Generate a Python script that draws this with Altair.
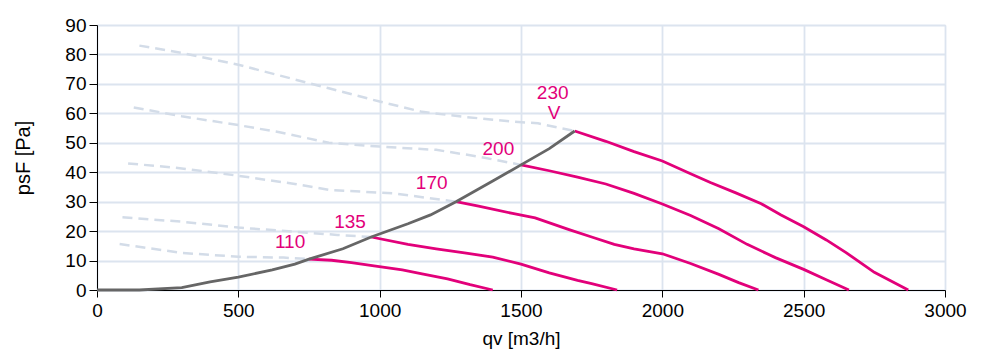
import altair as alt
import pandas as pd

# operating curve (gray)
sys_q = [0, 150, 300, 400, 500, 620, 700, 750, 870, 970, 1100, 1180, 1270, 1400, 1500, 1600, 1690]
sys_p = [0, 0, 0.8, 2.8, 4.4, 6.8, 8.8, 10.5, 14, 18, 22.5, 25.5, 30, 37, 42.5, 48, 54]

# voltage curves (solid magenta)
v230_q = [1690, 1800, 1900, 2000, 2100, 2170, 2260, 2350, 2420, 2500, 2580, 2650, 2750, 2870]
v230_p = [54, 50.5, 47, 43.8, 39.5, 36.5, 33, 29.3, 25.5, 21.5, 17, 12.7, 6, 0]
v200_q = [1500, 1600, 1700, 1800, 1900, 2000, 2100, 2200, 2300, 2400, 2500, 2580, 2660]
v200_p = [42.5, 40.5, 38.3, 36, 32.8, 29.2, 25.3, 20.8, 15.5, 11, 7, 3.5, 0]
v170_q = [1270, 1350, 1470, 1550, 1670, 1750, 1830, 1900, 2000, 2100, 2200, 2270, 2340]
v170_p = [30, 28.5, 26, 24.5, 20.5, 18, 15.5, 14, 12.3, 9, 5.3, 2.5, 0]
v135_q = [970, 1100, 1200, 1300, 1400, 1500, 1600, 1700, 1750, 1840]
v135_p = [18, 15.5, 14, 12.6, 11.2, 8.8, 5.8, 3.3, 2.2, 0]
v110_q = [750, 830, 900, 980, 1080, 1150, 1240, 1320, 1400]
v110_p = [10.5, 10.1, 9.3, 8.2, 6.8, 5.5, 3.8, 1.8, 0]

# dashed extensions (light)
d230_q = [150, 300, 500, 700, 820, 1000, 1150, 1300, 1470, 1560, 1690]
d230_p = [83, 80.5, 76.5, 71.5, 68.5, 64, 60.5, 58.8, 57.2, 56.6, 54]
d200_q = [130, 300, 500, 650, 820, 1000, 1200, 1350, 1500]
d200_p = [62, 59, 56, 53.5, 50, 48.7, 47.6, 45.3, 42.5]
d170_q = [110, 300, 500, 700, 820, 1050, 1270]
d170_p = [43, 41.3, 38.8, 36, 34, 32.8, 30]
d135_q = [90, 300, 500, 700, 850, 970]
d135_p = [24.7, 23.2, 21.2, 19.8, 18.7, 18]
d110_q = [80, 300, 500, 660, 750]
d110_p = [15.6, 12.6, 11.3, 11, 10.5]

label_text = ["110", "135", "170", "200", "230", "V"]
label_q = [683, 895, 1184, 1420, 1612, 1617]
label_p = [16.4, 23.2, 36.2, 47.9, 67, 60]

x_ticks = [0, 500, 1000, 1500, 2000, 2500, 3000]
y_ticks = [0, 10, 20, 30, 40, 50, 60, 70, 80, 90]

def frame(kind, name, q, p):
    return pd.DataFrame({"kind": kind, "series": name, "q": q, "p": p,
                         "order": range(len(q)), "t": ""})

df = pd.concat([
    frame("solid", "230", v230_q, v230_p), frame("solid", "200", v200_q, v200_p),
    frame("solid", "170", v170_q, v170_p), frame("solid", "135", v135_q, v135_p),
    frame("solid", "110", v110_q, v110_p),
    frame("dash", "230", d230_q, d230_p), frame("dash", "200", d200_q, d200_p),
    frame("dash", "170", d170_q, d170_p), frame("dash", "135", d135_q, d135_p),
    frame("dash", "110", d110_q, d110_p),
    frame("sys", "sys", sys_q, sys_p),
    pd.DataFrame({"kind": "label", "series": "lab", "q": label_q, "p": label_p,
                  "order": range(len(label_q)), "t": label_text}),
], ignore_index=True)

font = "Liberation Sans"
xscale = alt.Scale(domain=[0, 3000], nice=False)
yscale = alt.Scale(domain=[0, 90], nice=False)

xax = alt.Axis(values=x_ticks, title="qv [m3/h]", format="d",
               grid=True, gridColor="#dce4ef", gridWidth=1.8, labelOverlap=False, labelFlush=False,
               domainColor="#000000", tickColor="#000000", tickSize=7,
               labelFont=font, labelFontSize=19, labelColor="#000000", labelPadding=4,
               titleFont=font, titleFontSize=19, titleFontWeight="normal", titleColor="#000000",
               titleX=424, titleY=48, titleBaseline="middle")
yax = alt.Axis(values=y_ticks, title="psF [Pa]", format="d",
               grid=True, gridColor="#dce4ef", gridWidth=1.8, labelOverlap=False, labelFlush=False,
               domainColor="#000000", tickColor="#000000", tickSize=8,
               labelFont=font, labelFontSize=19, labelColor="#000000", labelPadding=3,
               titleFont=font, titleFontSize=20, titleFontWeight="normal", titleColor="#000000",
               titleX=-74, titleY=132.5, titleBaseline="middle", titleAlign="center")

base = alt.Chart(df).encode(
    x=alt.X("q:Q", scale=xscale, axis=xax),
    y=alt.Y("p:Q", scale=yscale, axis=yax),
)

dash_layer = base.transform_filter(alt.datum.kind == "dash").mark_line(
    color="#d3dce8", strokeWidth=2.5, strokeDash=[10, 6]).encode(detail="series:N", order="order:Q")
solid_layer = base.transform_filter(alt.datum.kind == "solid").mark_line(
    color="#e2007a", strokeWidth=2.8).encode(detail="series:N", order="order:Q")
sys_layer = base.transform_filter(alt.datum.kind == "sys").mark_line(
    color="#666666", strokeWidth=2.8).encode(order="order:Q")
text_layer = base.transform_filter(alt.datum.kind == "label").mark_text(
    color="#e2007a", font=font, fontSize=19, align="center", baseline="middle").encode(text="t:N")

chart = alt.layer(dash_layer, solid_layer, sys_layer, text_layer).properties(
    width=848, height=265,
    autosize=alt.AutoSizeParams(type="none"),
    padding={"left": 89, "top": 17, "right": 28, "bottom": 59},
).configure_view(stroke="#dce4ef", strokeWidth=1.8).configure(background="#ffffff")

chart.save("out.html", embed_options={"renderer": "svg", "actions": False})
